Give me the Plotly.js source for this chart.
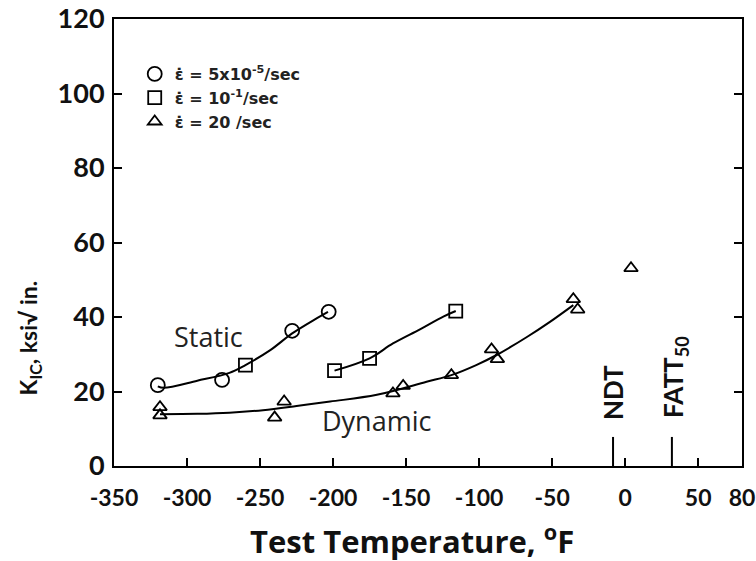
<!DOCTYPE html>
<html>
<head>
<meta charset="utf-8">
<script src="https://cdn.plot.ly/plotly-3.0.1.min.js"></script>
<style>html,body{margin:0;padding:0;background:#fff;}#chart{width:756px;height:561px;}</style>
</head>
<body>
<div id="chart"></div>
<script>
// Series: rate 5x10^-5/sec (circles)
const staticTemps = [-320, -276, -228, -203];
const staticKIC   = [21.7, 23.1, 36.3, 41.4];
// Series: rate 10^-1/sec (squares)
const interTemps = [-260, -199, -175, -116];
const interKIC   = [27.1, 25.6, 28.9, 41.6];
// Series: rate 20/sec (triangles)
const dynTemps = [-318.5, -318.5, -240, -233.5, -159, -152, -119, -91.5, -87.5, -35.5, -32.5, 4];
const dynKIC   = [15.8, 13.6, 13.0, 17.3, 19.5, 21.5, 24.4, 31.3, 28.7, 44.8, 42.0, 53.1];
// Hand-drawn trend curves
const staticCurveT = [-320, -316, -293, -271, -260, -243, -228, -211, -203.5];
const staticCurveK = [21.4, 21.0, 22.9, 25.0, 27.1, 31.1, 35.6, 39.7, 41.4];
const interCurveT = [-199, -175, -159, -140.5, -124.5, -116];
const interCurveK = [25.6, 28.9, 32.9, 36.7, 40.1, 41.6];
const dynCurveT = [-318.5, -293, -271, -248, -225, -202, -170, -136, -119, -102, -88, -67, -51.5, -35.5];
const dynCurveK = [13.9, 14.0, 14.3, 15.0, 16.1, 17.3, 19.1, 22.6, 24.4, 27.1, 29.8, 34.7, 38.7, 43.2];
// Transition temperatures
const refNames = ['NDT', 'FATT<sub>50</sub>'];
const refTemps = [-8.3, 32];
const refHeight = [0, 7.8];
// Axis ticks
const xTickVals = [-350, -300, -250, -200, -150, -100, -50, 0, 50, 80];
const xTickText = ['-350', '-300', '-250', '-200', '-150', '-100', '-50', '0', '50', '80'];
const yTickVals = [0, 20, 40, 60, 80, 100, 120];

const blk = '#000';
const traces = [
  {x: staticCurveT, y: staticCurveK, mode: 'lines', line: {color: blk, width: 2, shape: 'spline'}, showlegend: false, hoverinfo: 'skip'},
  {x: interCurveT, y: interCurveK, mode: 'lines', line: {color: blk, width: 2, shape: 'spline'}, showlegend: false, hoverinfo: 'skip'},
  {x: dynCurveT, y: dynCurveK, mode: 'lines', line: {color: blk, width: 2, shape: 'spline'}, showlegend: false, hoverinfo: 'skip'},
  {x: staticTemps, y: staticKIC, mode: 'markers', name: 'ε̇ = 5x10<sup>-5</sup>/sec',
   marker: {symbol: 'circle-open', size: 14, color: blk, line: {width: 1.8, color: blk}}},
  {x: interTemps, y: interKIC, mode: 'markers', name: 'ε̇ = 10<sup>-1</sup>/sec',
   marker: {symbol: 'square-open', size: 13, color: blk, line: {width: 1.8, color: blk}}},
  {x: dynTemps, y: dynKIC, mode: 'markers', name: 'ε̇ = 20 /sec',
   marker: {symbol: 'triangle-up-open', size: 12, color: blk, line: {width: 1.8, color: blk}}}
];
refTemps.forEach(function (t) {
  traces.push({x: [t, t], y: refHeight, mode: 'lines', line: {color: blk, width: 2}, showlegend: false, hoverinfo: 'skip'});
});

const annotations = [
  {text: 'Static', x: -285.6, y: 34.9, xref: 'x', yref: 'y', showarrow: false, xanchor: 'center', yanchor: 'middle',
   font: {family: 'Open Sans, sans-serif', size: 27, color: '#222'}},
  {text: 'Dynamic', x: -170.6, y: 12.1, xref: 'x', yref: 'y', showarrow: false, xanchor: 'center', yanchor: 'middle',
   font: {family: 'Open Sans, sans-serif', size: 27, color: '#222'}},
  {text: refNames[0], x: -8.7, y: 19.7, xref: 'x', yref: 'y', showarrow: false, textangle: -90,
   font: {family: 'Lato, sans-serif', size: 26, weight: 'bold', color: '#111'}},
  {text: refNames[1], x: 33.8, y: 23.8, xref: 'x', yref: 'y', showarrow: false, textangle: -90,
   font: {family: 'Lato, sans-serif', size: 26, weight: 'bold', color: '#111'}},
  {text: 'K<sub>IC</sub>, ksi√ in.', x: -0.135, y: 0.286, xref: 'paper', yref: 'paper', showarrow: false, textangle: -90,
   xanchor: 'center', yanchor: 'middle',
   font: {family: 'Lato, sans-serif', size: 23, weight: 'bold', color: '#111'}},
  {text: 'Test Temperature, <sup>o</sup>F', x: 0.4745, y: -0.1655, xref: 'paper', yref: 'paper', showarrow: false,
   xanchor: 'center', yanchor: 'middle',
   font: {family: 'Open Sans, sans-serif', size: 31, weight: 'bold', color: '#111'}}
];

const layout = {
  width: 756, height: 561,
  margin: {l: 114, r: 14, t: 19, b: 95},
  paper_bgcolor: '#fff', plot_bgcolor: '#fff',
  showlegend: true,
  legend: {x: 0.033, y: 0.915, xanchor: 'left', yanchor: 'top', bgcolor: 'rgba(0,0,0,0)',
    font: {family: 'DejaVu Sans, sans-serif', size: 16, weight: 'bold', color: '#222'}, itemwidth: 30, tracegroupgap: 0},
  xaxis: {range: [-350, 80], tickvals: xTickVals, ticktext: xTickText, ticks: 'inside', ticklen: 8, tickwidth: 2,
    tickcolor: blk, showline: true, linecolor: blk, linewidth: 2, mirror: true, showgrid: false, zeroline: false,
    ticklabelstandoff: 10,
    tickfont: {family: 'Lato, sans-serif', size: 23, weight: 'bold', color: '#111'}},
  yaxis: {range: [0, 120], tickvals: yTickVals, ticks: 'inside', ticklen: 8, tickwidth: 2,
    tickcolor: blk, showline: true, linecolor: blk, linewidth: 2, mirror: 'ticks', showgrid: false, zeroline: false,
    ticklabelstandoff: 2,
    tickfont: {family: 'Lato, sans-serif', size: 27, weight: 'bold', color: '#111'}},
  annotations: annotations
};

Plotly.newPlot('chart', traces, layout, {displayModeBar: false, staticPlot: true});
</script>
</body>
</html>
